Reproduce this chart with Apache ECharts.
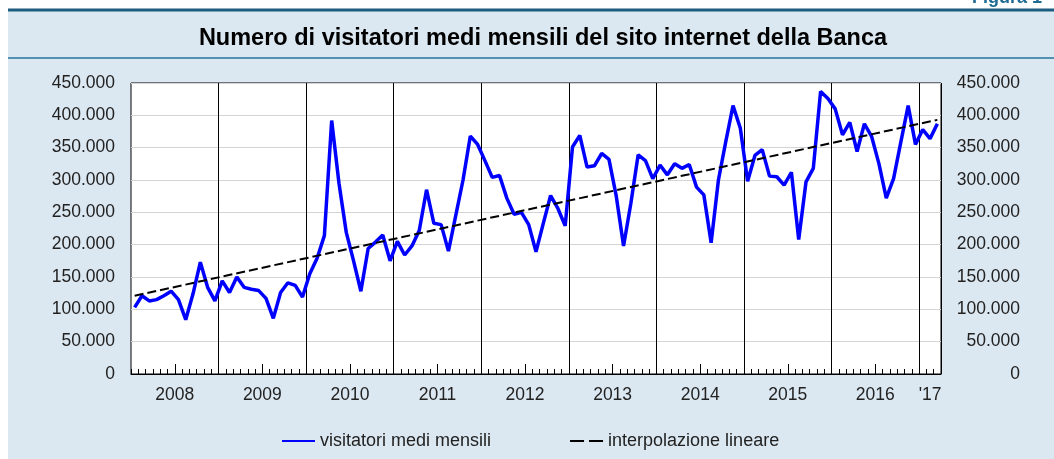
<!DOCTYPE html>
<html>
<head>
<meta charset="utf-8">
<script src="https://cdn.jsdelivr.net/npm/echarts@6/dist/echarts.min.js"></script>
<style>
  html, body { margin: 0; padding: 0; background: #fff; }
  #chart { width: 1054px; height: 459px; }
</style>
</head>
<body>
<div id="chart"></div>
<script>
// anni e mesi (gen 2008 - mar 2017)
var years = ['2008', '2009', '2010', '2011', '2012', '2013', '2014', '2015', '2016', "'17"];
var months = [];
for (var y = 2008; y <= 2017; y++) {
    for (var m = 1; m <= 12; m++) {
        if (y == 2017 && m > 3) break;
        months.push(y + '-' + (m < 10 ? '0' + m : m));
    }
}

// visitatori medi mensili
var v2008 = [103000, 121000, 113000, 115000, 121000, 128000, 115000, 84000, 124000, 173000, 134000, 113000];
var v2009 = [144000, 126000, 150000, 134000, 131000, 129000, 117000, 86000, 126000, 141000, 137000, 119000];
var v2010 = [155000, 179000, 214000, 392000, 295000, 219000, 175000, 128000, 194000, 204000, 215000, 175000];
var v2011 = [205000, 184000, 198000, 222000, 285000, 233000, 231000, 190000, 245000, 300000, 368000, 355000];
var v2012 = [330000, 304000, 307000, 272000, 247000, 250000, 231000, 189000, 233000, 276000, 256000, 229000];
var v2013 = [351000, 369000, 320000, 322000, 341000, 332000, 275000, 198000, 264000, 339000, 330000, 302000];
var v2014 = [323000, 308000, 325000, 318000, 324000, 289000, 277000, 203000, 300000, 359000, 415000, 380000];
var v2015 = [298000, 338000, 347000, 306000, 305000, 292000, 312000, 208000, 297000, 318000, 437000, 426000];
var v2016 = [410000, 370000, 389000, 344000, 387000, 367000, 325000, 272000, 302000, 359000, 415000, 355000];
var v2017 = [378000, 364000, 387000];
var visitatori = [].concat(v2008, v2009, v2010, v2011, v2012, v2013, v2014, v2015, v2016, v2017);

// interpolazione lineare: valori agli estremi
var trendStart = 121000;
var trendEnd = 393000;

(function () {
    var trend = [];
    for (var i = 0; i < months.length; i++) trend.push(null);
    trend[0] = trendStart;
    trend[months.length - 1] = trendEnd;

    // posizioni etichette anni (centro di ogni anno, in mesi)
    var labelPos = [];
    var midTicks = [];
    for (var k = 0; k < years.length; k++) {
        var s = k * 12, e = Math.min(s + 12, months.length);
        labelPos.push((s + e) / 2);
        if (e - s == 12) midTicks.push(s + 6);
    }

    function fmt(v) {
        return String(v).replace(/\B(?=(\d{3})+(?!\d))/g, '.');
    }

    var font = '"Liberation Sans", Arial, Helvetica, sans-serif';
    var chart = echarts.init(document.getElementById('chart'));
    var option = {
        animation: false,
        textStyle: { fontFamily: font },
        graphic: [
            { type: 'rect', silent: true, z: -10, shape: { x: 8, y: 10, width: 1100, height: 460 }, style: { fill: '#dce8f1' } },
            { type: 'rect', silent: true, z: -9, shape: { x: 8, y: 8.5, width: 1100, height: 3 }, style: { fill: '#1c5d7f' } },
            { type: 'rect', silent: true, z: -9, shape: { x: 8, y: 57, width: 1100, height: 2 }, style: { fill: '#5390b2' } },
            { type: 'text', silent: true, left: 972, top: -11, style: { text: 'Figura 1', font: 'bold 18px ' + font, fill: '#1f6a92' } }
        ],
        title: {
            text: 'Numero di visitatori medi mensili del sito internet della Banca',
            left: 538,
            top: 22,
            textAlign: 'center',
            textStyle: { fontSize: 23.5, fontWeight: 'bold', color: '#000', fontFamily: font }
        },
        legend: {
            left: 276,
            top: 427,
            itemWidth: 33,
            itemHeight: 14,
            itemGap: 78,
            itemStyle: { opacity: 0 },
            textStyle: { fontSize: 18, color: '#222', fontFamily: font },
            data: [
                { name: 'visitatori medi mensili' },
                { name: 'interpolazione lineare', lineStyle: { type: [14, 5], width: 2 } }
            ]
        },
        grid: {
            left: 131,
            right: 113,
            top: 83,
            bottom: 85,
            show: true,
            backgroundColor: '#fff',
            borderColor: '#000',
            borderWidth: 1
        },
        xAxis: [{
            type: 'category',
            data: months,
            boundaryGap: true,
            axisLine: { lineStyle: { color: '#000', width: 1 } },
            axisTick: { show: true, inside: true, length: 5, interval: 0, lineStyle: { color: '#000' } },
            axisLabel: { show: false },
            splitLine: {
                show: true,
                interval: function (index) { return index > 0 && index % 12 == 0; },
                lineStyle: { color: '#000', width: 1 }
            }
        }, {
            type: 'value',
            min: 0,
            max: months.length,
            position: 'bottom',
            axisLine: { show: false },
            splitLine: { show: false },
            axisTick: { show: true, inside: true, length: 10, customValues: midTicks, lineStyle: { color: '#000' } },
            axisLabel: {
                show: true,
                margin: 12,
                fontSize: 17.5,
                color: '#222',
                customValues: labelPos,
                formatter: function (v) {
                    var idx = labelPos.indexOf(v);
                    return idx >= 0 ? years[idx] : '';
                }
            }
        }],
        yAxis: [{
            type: 'value',
            min: 0,
            max: 450000,
            interval: 50000,
            axisLine: { show: false },
            axisTick: { show: false },
            axisLabel: { fontSize: 17.5, color: '#222', margin: 16, formatter: fmt },
            splitLine: { show: true, lineStyle: { color: '#d4d4d4', width: 1 } }
        }, {
            type: 'value',
            position: 'right',
            min: 0,
            max: 450000,
            interval: 50000,
            axisLine: { show: false },
            axisTick: { show: false },
            axisLabel: { fontSize: 17.5, color: '#222', margin: 79, align: 'right', formatter: fmt },
            splitLine: { show: false }
        }],
        series: [{
            name: 'visitatori medi mensili',
            type: 'line',
            data: visitatori,
            symbol: 'none',
            lineStyle: { color: '#0000ff', width: 3.5 },
            itemStyle: { color: '#0000ff' },
            z: 3
        }, {
            name: 'interpolazione lineare',
            type: 'line',
            data: trend,
            connectNulls: true,
            symbol: 'none',
            lineStyle: { color: '#000', width: 2, type: [9, 4] },
            itemStyle: { color: '#000' },
            z: 4
        }]
    };
    chart.setOption(option);
})();
</script>
</body>
</html>
